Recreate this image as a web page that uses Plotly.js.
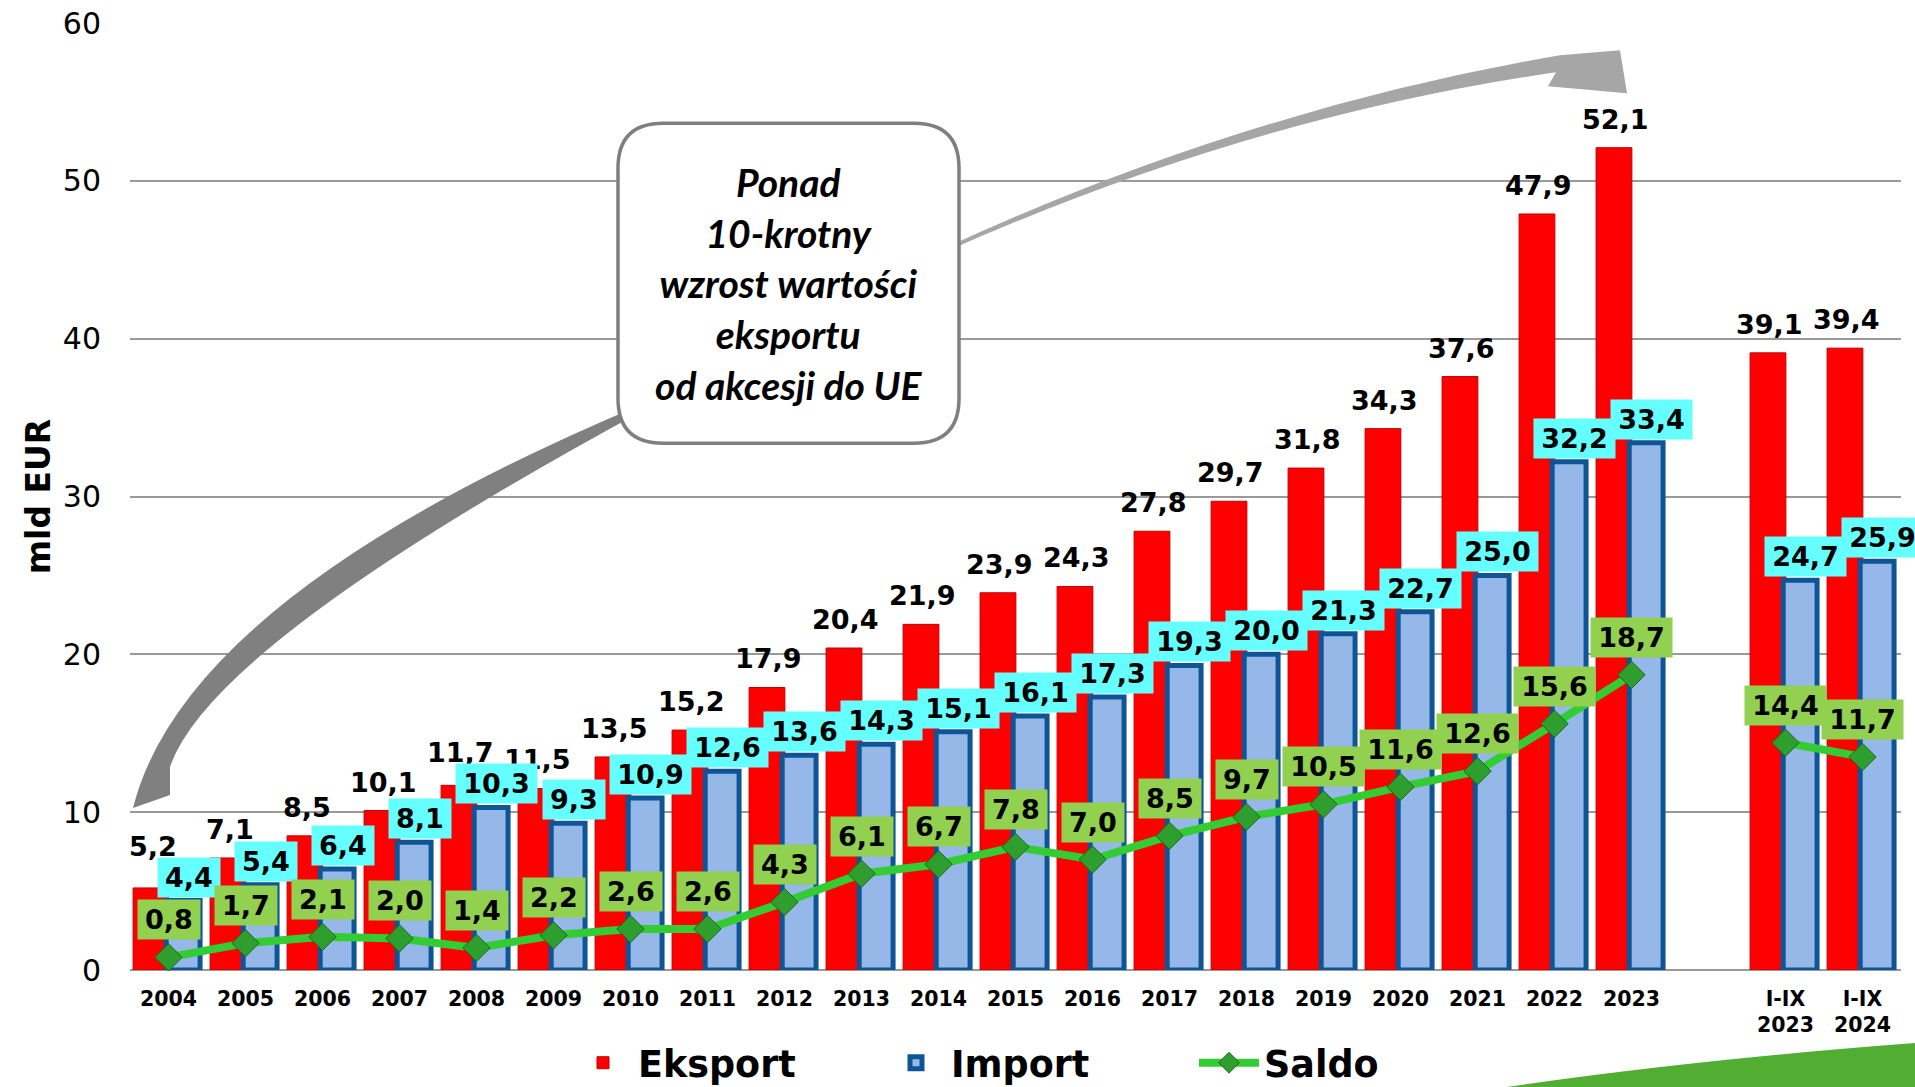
<!DOCTYPE html>
<html>
<head>
<meta charset="utf-8">
<script src="https://cdn.plot.ly/plotly-3.0.1.min.js"></script>
<style>
html,body{margin:0;padding:0;background:#ffffff;}
#chart{width:1915px;height:1087px;}
</style>
</head>
<body>
<div id="chart"></div>
<script>
// ---------- data ----------
const categories = ['2004','2005','2006','2007','2008','2009','2010','2011','2012','2013',
  '2014','2015','2016','2017','2018','2019','2020','2021','2022','2023',' ','I-IX<br>2023','I-IX<br>2024'];
const eksport = [5.2,7.1,8.5,10.1,11.7,11.5,13.5,15.2,17.9,20.4,21.9,23.9,24.3,27.8,29.7,31.8,34.3,37.6,47.9,52.1,null,39.1,39.4];
const importVals = [4.4,5.4,6.4,8.1,10.3,9.3,10.9,12.6,13.6,14.3,15.1,16.1,17.3,19.3,20.0,21.3,22.7,25.0,32.2,33.4,null,24.7,25.9];
const saldo = [0.8,1.7,2.1,2.0,1.4,2.2,2.6,2.6,4.3,6.1,6.7,7.8,7.0,8.5,9.7,10.5,11.6,12.6,15.6,18.7,null,14.4,13.5];
const saldoLabels = ['0,8','1,7','2,1','2,0','1,4','2,2','2,6','2,6','4,3','6,1','6,7','7,8','7,0','8,5','9,7','10,5','11,6','12,6','15,6','18,7','','14,4','11,7'];
const seriesNames = ['Eksport','Import','Saldo'];
const yTitle = 'mld EUR';
const calloutText = 'Ponad<br>10-krotny<br>wzrost wartości<br>eksportu<br>od akcesji do UE';

// ---------- layout geometry ----------
const W = 1915, H = 1087;
const M = {l:130, r:14, t:22.7, b:117};
const PW = W - M.l - M.r, PH = H - M.t - M.b;
const Y_MAX = 60;
const X = px => (px - M.l) / PW;          // pixel -> paper x
const Y = py => (H - M.b - py) / PH;      // pixel -> paper y
const P = (x, y) => X(x).toFixed(5) + ',' + Y(y).toFixed(5);
const v2px = v => v * PH / Y_MAX;         // value -> pixels above the zero line

const fmt = v => v.toFixed(1).replace('.', ',');
const LABEL_FONT = {family:'DejaVu Sans', size:27, color:'#000000', weight:'bold'};
const textW = s => { let w = 0; for (const c of s) w += (c === ',' ? 0.38 : 0.696) * 27; return Math.round(w + 6); };
const IMP_SHIFT = 3, BOX_H = 40, EKS_SHIFT = 11;

// ---------- traces ----------
const trEksport = {
  type:'bar', name:seriesNames[0], x:categories, y:eksport,
  offset:-0.46, width:0.465,
  marker:{color:'#FF0000', line:{color:'#C00000', width:1}},
  hoverinfo:'skip'
};
const trImport = {
  type:'bar', name:seriesNames[1], x:categories, y:importVals,
  offset:-0.03, width:0.44,
  marker:{color:'#95B8E8', line:{color:'#0F5596', width:5}},
  hoverinfo:'skip'
};
const trSaldo = {
  type:'scatter', mode:'lines+markers', name:seriesNames[2], x:categories, y:saldo,
  connectgaps:false, cliponaxis:false,
  line:{color:'#33CC33', width:8},
  marker:{symbol:'diamond', size:21, color:'#2E9E2E', line:{color:'#1B6B1B', width:1}},
  hoverinfo:'skip'
};

// ---------- value labels (x = category index on the category axis) ----------
const annotations = [];
categories.forEach((c, i) => {
  if (eksport[i] == null) return;
  // lift the export label clear of the import label box when they would collide
  const impTop = v2px(importVals[i]) + IMP_SHIFT + BOX_H;
  const shift = Math.max(EKS_SHIFT, impTop - v2px(eksport[i]) - 6);
  annotations.push({x:i, y:eksport[i], xref:'x', yref:'y', text:fmt(eksport[i]),
    showarrow:false, xanchor:'center', yanchor:'bottom', xshift:-16, yshift:shift,
    font:LABEL_FONT});
});
categories.forEach((c, i) => {
  if (importVals[i] == null) return;
  const t = fmt(importVals[i]);
  annotations.push({x:i, y:importVals[i], xref:'x', yref:'y', text:t,
    showarrow:false, xanchor:'center', yanchor:'bottom', xshift:20, yshift:IMP_SHIFT,
    bgcolor:'#66FFFF', borderpad:4, width:textW(t), font:LABEL_FONT});
});
categories.forEach((c, i) => {
  if (saldo[i] == null) return;
  const t = saldoLabels[i];
  annotations.push({x:i, y:saldo[i], xref:'x', yref:'y', text:t,
    showarrow:false, xanchor:'center', yanchor:'bottom', xshift:0, yshift:17,
    bgcolor:'#92D050', borderpad:4, width:textW(t), font:LABEL_FONT});
});
// callout text
annotations.push({xref:'paper', yref:'paper', x:X(788.5), y:Y(283), text:'<b><i>' + calloutText + '</i></b>',
  showarrow:false, xanchor:'center', yanchor:'middle', align:'center',
  font:{family:'Lato', size:39, color:'#000000'}});

// ---------- decorative shapes ----------
const r = 45, bx0 = 618, bx1 = 959, by0 = 123, by1 = 443;
const boxPath = 'M' + P(bx0+r,by0) + ' L' + P(bx1-r,by0) + ' Q' + P(bx1,by0) + ' ' + P(bx1,by0+r) +
  ' L' + P(bx1,by1-r) + ' Q' + P(bx1,by1) + ' ' + P(bx1-r,by1) +
  ' L' + P(bx0+r,by1) + ' Q' + P(bx0,by1) + ' ' + P(bx0,by1-r) +
  ' L' + P(bx0,by0+r) + ' Q' + P(bx0,by0) + ' ' + P(bx0+r,by0) + ' Z';
const arrowLow = 'M' + P(133,808) + ' Q' + P(186,596) + ' ' + P(640,405) +
  ' L' + P(640,412) + ' Q' + P(210,646) + ' ' + P(170,767) + ' L' + P(170,795) + ' Z';
const arrowHigh = 'M' + P(940,250) + ' Q' + P(1244,109) + ' ' + P(1560,55) +
  ' L' + P(1620,50) + ' L' + P(1627,93) + ' L' + P(1548,86) + ' L' + P(1556,72) +
  ' Q' + P(1246,117) + ' ' + P(940,254) + ' Z';
const swoosh = 'M' + P(1500,1088) + ' Q' + P(1690,1060) + ' ' + P(1916,1043) + ' L' + P(1916,1088) + ' Z';

const shapes = [
  {type:'path', xref:'paper', yref:'paper', path:arrowLow, fillcolor:'#808080', line:{width:0}, layer:'above'},
  {type:'path', xref:'paper', yref:'paper', path:arrowHigh, fillcolor:'#A6A6A6', line:{width:0}, layer:'above'},
  {type:'path', xref:'paper', yref:'paper', path:boxPath, fillcolor:'#FFFFFF', line:{color:'#7F7F7F', width:3.5}, layer:'above'},
  {type:'path', xref:'paper', yref:'paper', path:swoosh, fillcolor:'#52AE32', line:{width:0}, layer:'above'}
];

const layout = {
  width:W, height:H, autosize:false,
  margin:{l:M.l, r:M.r, t:M.t, b:M.b, pad:0, autoexpand:false},
  paper_bgcolor:'#FFFFFF', plot_bgcolor:'#FFFFFF',
  barmode:'overlay',
  showlegend:true,
  legend:{orientation:'h', xref:'container', yref:'container',
    x:568/W, xanchor:'left', y:(H-1063)/H, yanchor:'middle',
    font:{family:'DejaVu Sans', size:36.5, color:'#000000', weight:'bold'},
    itemwidth:60, entrywidth:238, entrywidthmode:'pixels', bgcolor:'rgba(0,0,0,0)', traceorder:'normal'},
  xaxis:{type:'category', categoryorder:'array', categoryarray:categories,
    range:[-0.5, 22.5], showgrid:false, zeroline:false, showline:false, ticks:'',
    tickfont:{family:'DejaVu Sans', size:20.5, color:'#000000', weight:'bold'},
    ticklabelstandoff:14, automargin:false, fixedrange:true},
  yaxis:{range:[0,Y_MAX], dtick:10, tick0:0, showgrid:true, gridcolor:'#999999', gridwidth:2,
    zeroline:true, zerolinecolor:'#999999', zerolinewidth:2, showline:false, ticks:'',
    tickfont:{family:'DejaVu Sans', size:30, color:'#000000'},
    ticklabelstandoff:28, automargin:false,
    title:{text:yTitle, font:{family:'DejaVu Sans', size:33, color:'#000000', weight:'bold'}, standoff:2},
    fixedrange:true},
  annotations:annotations,
  shapes:shapes
};

Plotly.newPlot('chart', [trEksport, trImport, trSaldo], layout, {displayModeBar:false, staticPlot:true});
</script>
</body>
</html>
